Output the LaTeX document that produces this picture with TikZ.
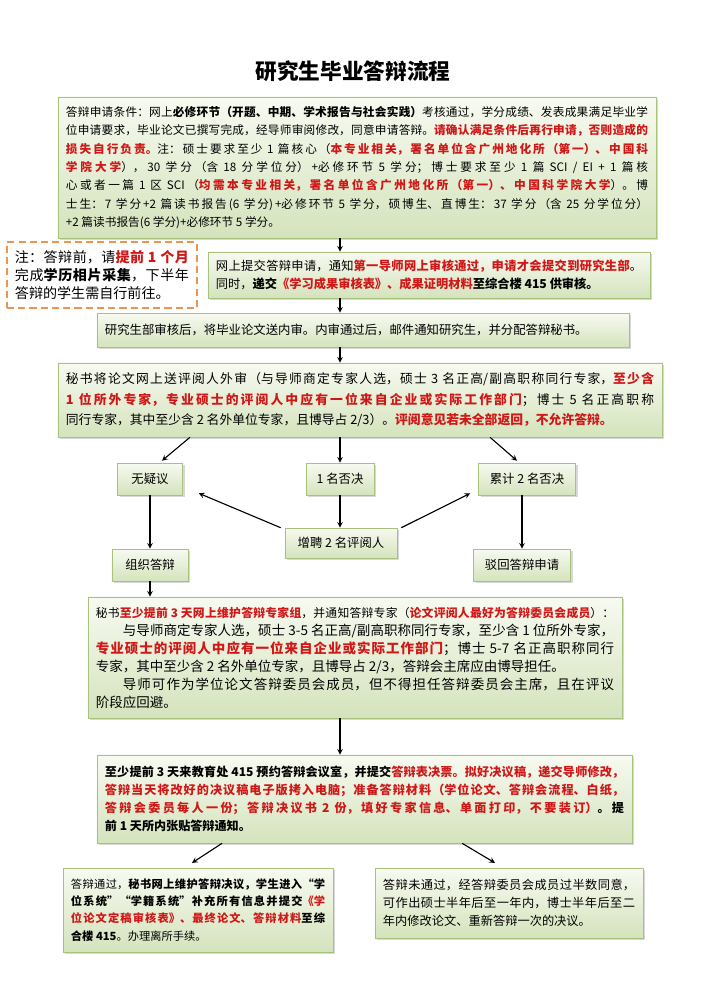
\documentclass[tikz,border=0pt]{standalone}
\usepackage{fontspec}
\setmainfont{Noto Sans CJK SC}
\usetikzlibrary{arrows,shadows}
\XeTeXlinebreaklocale "zh"
\XeTeXlinebreakskip = 0pt plus 1pt

\definecolor{alert}{HTML}{D01818}
\definecolor{boxline}{HTML}{A8C17C}
\definecolor{boxtop}{HTML}{F7FAF1}
\definecolor{boxbottom}{HTML}{D4E3BC}
\definecolor{noteline}{HTML}{EC9450}

\newcommand{\hot}[1]{\textcolor{alert}{\textbf{#1}}}

\begin{document}
\begin{tikzpicture}[
    x=0.025cm, y=0.025cm,
    stepbox/.style={rectangle, draw=boxline, top color=boxtop, bottom color=boxbottom,
        drop shadow={shadow xshift=0.06cm, shadow yshift=-0.06cm, opacity=0.3},
        inner xsep=0.2cm, inner ysep=0.15cm, align=justify},
    tinybox/.style={stepbox, align=center, font=\fontsize{8.8}{11}\selectfont, minimum height=0.8cm},
    notebox/.style={rectangle, draw=noteline, line width=1.4pt, dash pattern=on 5pt off 3pt,
        fill=white, inner xsep=0.2cm, inner ysep=0.15cm, align=justify},
    arrow/.style={thick,->,>=stealth}
]

% page
\path[fill=white, use as bounding box] (0,0) rectangle (707,-1000);
\coordinate (spine) at (340,0);

% title
\node[font=\fontsize{15.4}{18}\selectfont\bfseries] (title) at (353,-71) {研究生毕业答辩流程};

% application
\node[stepbox, text width=14.55cm, minimum height=3.525cm, font=\fontsize{8.3}{13}\selectfont] (apply) at (357,-167.5) {答辩申请条件：网上\textbf{必修环节（开题、中期、学术报告与社会实践）}考核通过，学分成绩、发表成果满足毕业学\linebreak
位申请要求，毕业论文已撰写完成，经导师审阅修改，同意申请答辩。\hot{请确认满足条件后再行申请，否则造成的}\linebreak
\hot{损失自行负责。}注：硕士要求至少 1 篇核心（\hot{本专业相关，署名单位含广州地化所（第一）、中国科}\linebreak
\hot{学院大学}），30 学分（含 18 分学位分）+必修环节 5 学分；博士要求至少 1 篇 SCI / EI + 1 篇核\linebreak
心或者一篇 1 区 SCI（\hot{均需本专业相关，署名单位含广州地化所（第一）、中国科学院大学}）。博\linebreak
士生：7 学分+2 篇读书报告(6 学分)+必修环节 5 学分，硕博生、直博生：37 学分（含 25 分学位分）\linebreak
+2 篇读书报告(6 学分)+必修环节 5 学分。};

% note
\node[notebox, text width=4.35cm, minimum height=1.65cm, font=\fontsize{10}{13}\selectfont] (note) at (102,-275) {注：答辩前，请\hot{提前 1 个月}\linebreak
完成\textbf{学历相片采集}，下半年\linebreak
答辩的学生需自行前往。};

% submission
\node[stepbox, text width=10.65cm, minimum height=1.15cm, font=\fontsize{8.7}{13}\selectfont] (submit) at (429,-275) {网上提交答辩申请，通知\hot{第一导师网上审核通过，申请才会提交到研究生部}。\linebreak
同时，\textbf{递交}\hot{《学习成果审核表》、成果证明材料}\textbf{至综合楼 415 供审核。}};

% internal review
\node[stepbox, align=left, text width=12.9cm, minimum height=0.85cm, font=\fontsize{8.8}{12}\selectfont] (internal) at (363,-330) {研究生部审核后，将毕业论文送内审。内审通过后，邮件通知研究生，并分配答辩秘书。};

% external review
\node[stepbox, text width=14.7cm, minimum height=1.85cm, font=\fontsize{9.1}{14.5}\selectfont] (review) at (360,-400) {秘书将论文网上送评阅人外审（与导师商定专家人选，硕士 3 名正高/副高职称同行专家，\hot{至少含}\linebreak
\hot{1 位所外专家，专业硕士的评阅人中应有一位来自企业或实际工作部门}；博士 5 名正高职称\linebreak
同行专家，其中至少含 2 名外单位专家，且博导占 2/3）。\hot{评阅意见若未全部返回，不允许答辩。}};

% review results
\node[tinybox, minimum width=1.625cm] (noobj) at (150,-479) {无疑议};
\node[tinybox, minimum width=1.7cm] (onereject) at (340,-479) {1 名否决};
\node[tinybox, minimum width=2.425cm] (tworeject) at (527,-479) {累计 2 名否决};
\node[tinybox, minimum width=2.8cm, minimum height=0.75cm] (addrev) at (341,-543) {增聘 2 名评阅人};
\node[tinybox, minimum width=1.9cm] (organize) at (150,-565) {组织答辩};
\node[tinybox, minimum width=2.425cm] (dismiss) at (522,-565) {驳回答辩申请};

% defence panel
\node[stepbox, text width=12.95cm, minimum height=3.025cm, font=\fontsize{9.6}{12.8}\selectfont] (panel) at (355,-657.5) {{\fontsize{8.4}{12.8}\selectfont 秘书\hot{至少提前 3 天网上维护答辩专家组}，并通知答辩专家（\hot{论文评阅人最好为答辩委员会成员}）：}\linebreak
\hspace*{2em}与导师商定专家人选，硕士 3-5 名正高/副高职称同行专家，至少含 1 位所外专家，\linebreak
\hot{专业硕士的评阅人中应有一位来自企业或实际工作部门}；博士 5-7 名正高职称同行\linebreak
专家，其中至少含 2 名外单位专家，且博导占 2/3，答辩会主席应由博导担任。\newline
\hspace*{2em}导师可作为学位论文答辩委员会成员，但不得担任答辩委员会主席，且在评议\linebreak
阶段应回避。};

% booking
\node[stepbox, text width=12.975cm, minimum height=2.2cm, font=\fontsize{8.6}{12.8}\selectfont\bfseries] (booking) at (364.5,-799) {至少提前 3 天来教育处 415 预约答辩会议室，并提交\hot{答辩表决票。拟好决议稿，递交导师修改，}\linebreak
\hot{答辩当天将改好的决议稿电子版拷入电脑；准备答辩材料（学位论文、答辩会流程、白纸，}\linebreak
\hot{答辩会委员每人一份；答辩决议书 2 份，填好专家信息、单面打印，不要装订）}。提\linebreak
前 1 天所内张贴答辩通知。};

% outcomes
\node[stepbox, text width=6.35cm, minimum height=2.1cm, font=\fontsize{8.0}{12.2}\selectfont] (pass) at (198,-910) {答辩通过，\textbf{秘书网上维护答辩决议，学生进入“学}\linebreak
\textbf{位系统”“学籍系统”补充所有信息并提交}\hot{《学}\linebreak
\hot{位论文定稿审核表》、最终论文、答辩材料}\textbf{至综}\linebreak
\textbf{合楼 415}。办理离所手续。};
\node[stepbox, text width=6.3cm, minimum height=1.75cm, font=\fontsize{8.7}{12.8}\selectfont] (fail) at (509,-903) {答辩未通过，经答辩委员会成员过半数同意，\linebreak
可作出硕士半年后至一年内，博士半年后至二\linebreak
年内修改论文、重新答辩一次的决议。};

% connections
\draw[arrow] (apply.south -| spine) -- (submit.north -| spine);
\draw[arrow] (submit.south -| spine) -- (internal.north -| spine);
\draw[arrow] (internal.south -| spine) -- (review.north -| spine);

\draw[arrow] ([xshift=-4.25cm]review.south) -- ([xshift=0.3cm,yshift=0.05cm]noobj.north);
\draw[arrow] (review.south -| onereject) -- (onereject.north);
\draw[arrow] ([xshift=3.25cm]review.south) -- ([xshift=-0.25cm,yshift=0.05cm]tworeject.north);

\draw[arrow] (noobj) -- (organize);
\draw[arrow] (onereject) -- (addrev.north -| onereject);
\draw[arrow] (tworeject.south -| dismiss) -- (dismiss.north);
\draw[arrow] ([xshift=-0.1cm]addrev.north west) -- ([xshift=0.4cm,yshift=0.05cm]noobj.south east);
\draw[arrow] ([xshift=0.1cm]addrev.north east) -- ([xshift=-0.2cm,yshift=0.05cm]tworeject.south west);

\draw[arrow] (organize) -- (panel.north -| organize);
\draw[arrow] (panel.south -| spine) -- (booking.north -| spine);

\draw[arrow] ([xshift=-3.56cm]booking.south) -- ([xshift=-0.15cm,yshift=0.12cm]pass.north);
\draw[arrow] ([xshift=2.44cm]booking.south) -- ([xshift=-0.35cm,yshift=0.12cm]fail.north);

\end{tikzpicture}
\end{document}
